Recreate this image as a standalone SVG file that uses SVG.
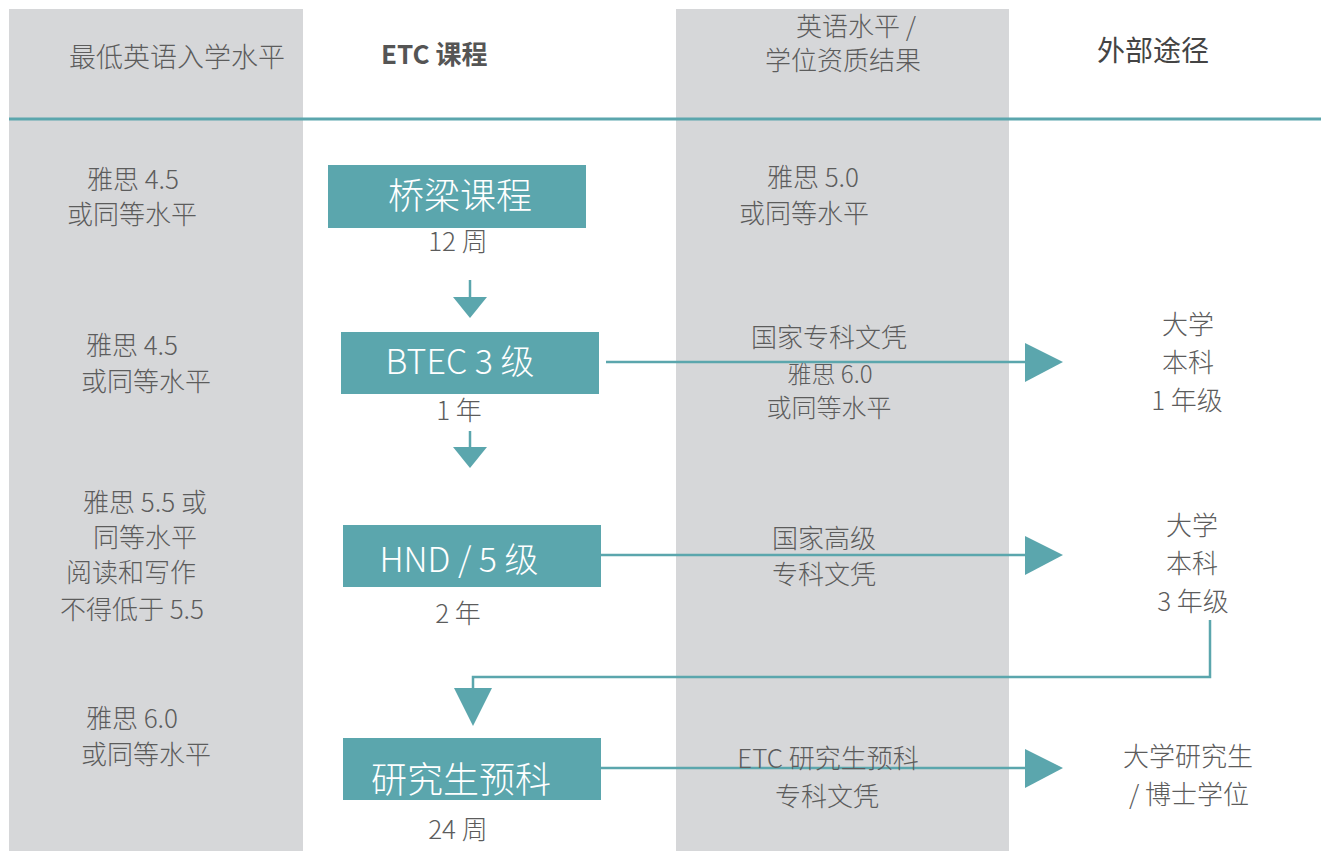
<svg xmlns="http://www.w3.org/2000/svg" width="1321" height="851" viewBox="0 0 1321 851">
<style>
.t{font-family:"Noto Sans CJK SC","Noto Sans",sans-serif;font-size:26px;fill:#5c5c5c;text-anchor:middle;font-weight:300}
.bx{fill:#5ba6ad}
.bt{font-family:"Noto Sans CJK SC","Noto Sans",sans-serif;font-size:36px;fill:#ffffff;text-anchor:middle;font-weight:300}
.ln{stroke:#5ba6ad;stroke-width:2.5;fill:none}
.ah{fill:#5ba6ad}
</style>
<rect width="1321" height="851" fill="#ffffff"/>
<g id="columns">
<rect x="9" y="9" width="294" height="842" fill="#d6d7d9"/>
<rect x="676" y="9" width="333" height="842" fill="#d6d7d9"/>
<line x1="9" y1="119" x2="1321" y2="119" stroke="#5ba6ad" stroke-width="3"/>
</g>
<g id="headers">
<text class="t" x="177" y="67" style="font-size:27px">最低英语入学水平</text>
<text class="t" x="381" y="64" style="text-anchor:start;font-weight:bold;fill:#555;font-size:26px">ETC 课程</text>
<text class="t" x="856" y="36">英语水平 /</text>
<text class="t" x="843" y="70">学位资质结果</text>
<text class="t" x="1153" y="61" style="font-size:28px;fill:#444;font-weight:normal">外部途径</text>
</g>
<g id="entry-req">
<text class="t" x="133" y="189">雅思 4.5</text>
<text class="t" x="132" y="224">或同等水平</text>
<text class="t" x="132" y="355">雅思 4.5</text>
<text class="t" x="146" y="391">或同等水平</text>
<text class="t" x="145" y="512">雅思 5.5 或</text>
<text class="t" x="145" y="547">同等水平</text>
<text class="t" x="131" y="582">阅读和写作</text>
<text class="t" x="132" y="619">不得低于 5.5</text>
<text class="t" x="132" y="728">雅思 6.0</text>
<text class="t" x="146" y="764">或同等水平</text>
</g>
<g id="node-bridge">
<rect class="bx" x="328" y="165" width="258" height="63"/>
<text class="bt" x="460" y="209">桥梁课程</text>
<text class="t" x="458" y="251">12 周</text>
</g>
<g id="node-btec">
<rect class="bx" x="341" y="332" width="258" height="62"/>
<text class="bt" x="460" y="374" style="font-size:34px">BTEC 3 级</text>
<text class="t" x="459" y="420">1 年</text>
</g>
<g id="node-hnd">
<rect class="bx" x="343" y="525" width="258" height="62"/>
<text class="bt" x="459" y="572" style="font-size:34px">HND / 5 级</text>
<text class="t" x="458" y="623">2 年</text>
</g>
<g id="node-pg">
<rect class="bx" x="343" y="738" width="258" height="62"/>
<text class="bt" x="461" y="793">研究生预科</text>
<text class="t" x="458" y="839">24 周</text>
</g>
<g id="connectors">
<line class="ln" x1="470" y1="280" x2="470" y2="298"/>
<polygon class="ah" points="453,297 487,297 470,318"/>
<line class="ln" x1="470" y1="431" x2="470" y2="448"/>
<polygon class="ah" points="453,447 487,447 470,468"/>
<line class="ln" x1="606" y1="362" x2="1026" y2="362"/>
<polygon class="ah" points="1025,343 1025,382 1063,362"/>
<line class="ln" x1="601" y1="555" x2="1026" y2="555"/>
<polygon class="ah" points="1025,536 1025,575 1063,555"/>
<line class="ln" x1="601" y1="768" x2="1026" y2="768"/>
<polygon class="ah" points="1025,749 1025,788 1063,768"/>
<polyline class="ln" points="1210,620 1210,677 473,677 473,690"/>
<polygon class="ah" points="454,688 492,688 473,726"/>
</g>
<g id="outcomes">
<text class="t" x="813" y="187">雅思 5.0</text>
<text class="t" x="804" y="223">或同等水平</text>
<text class="t" x="829" y="347">国家专科文凭</text>
<text class="t" x="830" y="383" style="font-size:24px">雅思 6.0</text>
<text class="t" x="829" y="417" style="font-size:25px">或同等水平</text>
<text class="t" x="824" y="548">国家高级</text>
<text class="t" x="824" y="584">专科文凭</text>
<text class="t" x="828" y="768">ETC 研究生预科</text>
<text class="t" x="827" y="806">专科文凭</text>
</g>
<g id="pathways">
<text class="t" x="1188" y="334">大学</text>
<text class="t" x="1188" y="372">本科</text>
<text class="t" x="1187" y="410">1 年级</text>
<text class="t" x="1192" y="535">大学</text>
<text class="t" x="1192" y="573">本科</text>
<text class="t" x="1193" y="611">3 年级</text>
<text class="t" x="1188" y="766">大学研究生</text>
<text class="t" x="1189" y="804">/ 博士学位</text>
</g>
</svg>
